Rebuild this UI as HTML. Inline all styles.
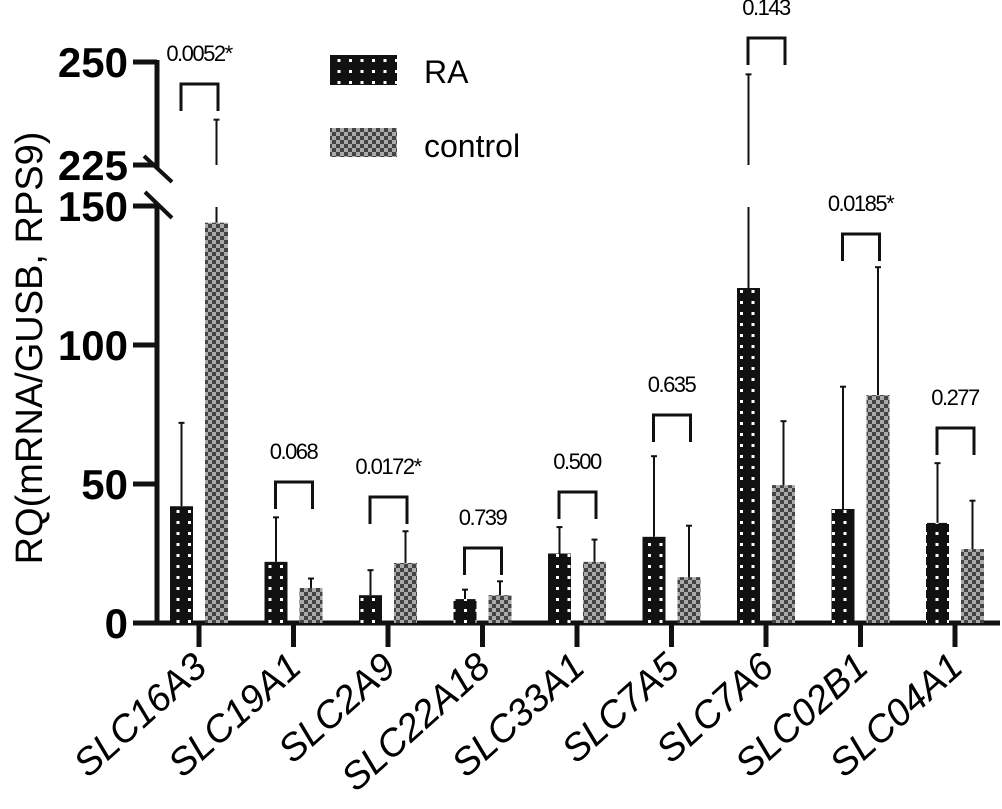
<!DOCTYPE html>
<html><head><meta charset="utf-8"><style>
html,body{margin:0;padding:0;background:#fff;}
svg{display:block;font-family:"Liberation Sans",Arial,sans-serif;}
</style></head><body>
<svg id="chart" width="1002" height="809" viewBox="0 0 1002 809">
<defs>
<pattern id="dots" patternUnits="userSpaceOnUse" width="11.5" height="11" x="2" y="0">
<rect width="11.5" height="11" fill="#111"/><rect x="2" y="4" width="3" height="3" fill="#fff"/>
</pattern>
<pattern id="check" patternUnits="userSpaceOnUse" width="8" height="8">
<rect width="8" height="8" fill="#aaa"/><rect width="4" height="4" fill="#444"/><rect x="4" y="4" width="4" height="4" fill="#444"/>
</pattern>
</defs>
<g id="axes"></g>
<g id="marks"></g>
<g>
<rect x="330" y="55" width="67" height="30" fill="url(#dots)"/>
<text x="424" y="83" font-size="32">RA</text>
<rect x="330" y="128" width="67" height="29" fill="url(#check)"/>
<text x="424" y="157" font-size="32">control</text>
</g>
<text transform="translate(42,348) rotate(-90)" text-anchor="middle" font-size="38">RQ(mRNA/GUSB, RPS9)</text>
</svg>
<script>
const categories=["SLC16A3","SLC19A1","SLC2A9","SLC22A18","SLC33A1","SLC7A5","SLC7A6","SLC02B1","SLC04A1"];
const raValues=[42,22,10,8.6,25,31,120.5,41,36];
const raErrors=[72,38,19,12,34.5,60,247,85,57.5];
const ctrlValues=[144,12.6,21.6,10,22,16.5,49.6,82,26.6];
const ctrlErrors=[236,16,33,15,30,35,72.6,128,44];
const pLabels=["0.0052*","0.068","0.0172*","0.739","0.500","0.635","0.143","0.0185*","0.277"];
const bracketTops=[84,482,497,548,492,415,38,234,428];
const yTicksLow=[0,50,100,150];
const yTicksHigh=[225,250];

const NS="http://www.w3.org/2000/svg";
const base=623, pxLow=2.78, brkTop=165, pxHigh=4.12;
function y(v){return v<=150?base-v*pxLow:brkTop-(v-225)*pxHigh;}
function xc(i){return 199+i*94.5;}
function mk(p,tag,a){const e=document.createElementNS(NS,tag);for(const k in a)e.setAttribute(k,a[k]);p.appendChild(e);return e;}
const axes=document.getElementById('axes'),marks=document.getElementById('marks');
let e;
e=mk(axes,'line',{x1:157,y1:base+2,x2:157,y2:y(150)-2,stroke:'#111','stroke-width':5});

e=mk(axes,'line',{x1:157,y1:y(225)+3,x2:157,y2:y(250)-2,stroke:'#111','stroke-width':5});

e=mk(axes,'line',{x1:133,y1:base,x2:1000,y2:base,stroke:'#111','stroke-width':5});

e=mk(axes,'line',{x1:144,y1:156,x2:172,y2:182,stroke:'#111','stroke-width':4});

e=mk(axes,'line',{x1:145,y1:192,x2:172,y2:218,stroke:'#111','stroke-width':4});

yTicksLow.concat(yTicksHigh).forEach(v=>{
  const ty=y(v);
  if(v>0){const t=mk(axes,'line',{x1:133,y1:ty,x2:157,y2:ty,stroke:'#111','stroke-width':5});
  }
  const l=mk(axes,'text',{x:128,y:ty+15,'text-anchor':'end','font-size':42,'font-weight':'bold'});
  l.textContent=v;
  
});
categories.forEach((c,i)=>{
  const cx=xc(i);
  const t=mk(axes,'line',{x1:cx,y1:base,x2:cx,y2:647,stroke:'#111','stroke-width':5});
  
  const l=mk(axes,'text',{transform:`translate(${cx+10},670) rotate(-42)`,'text-anchor':'end','font-size':38,'font-style':'italic'});
  l.textContent=c;
  
});
function errLine(xx,v,err){
  const top=y(v);
  if(err>150){
    mk(marks,'line',{x1:xx,y1:top,x2:xx,y2:207,stroke:'#111','stroke-width':2});
    mk(marks,'line',{x1:xx,y1:brkTop,x2:xx,y2:y(err),stroke:'#111','stroke-width':2});
  } else mk(marks,'line',{x1:xx,y1:top,x2:xx,y2:y(err),stroke:'#111','stroke-width':2});
  mk(marks,'line',{x1:xx-3,y1:y(err),x2:xx+3,y2:y(err),stroke:'#111','stroke-width':2});
}
categories.forEach((c,i)=>{
  const cx=xc(i);
  errLine(cx-17.5,raValues[i],raErrors[i]);
  errLine(cx+17.5,ctrlValues[i],ctrlErrors[i]);
  const b1=mk(marks,'rect',{x:cx-29,y:y(raValues[i]),width:23,height:base-y(raValues[i]),fill:'url(#dots)'});
  
  
  const b2=mk(marks,'rect',{x:cx+6,y:y(ctrlValues[i]),width:23,height:base-y(ctrlValues[i]),fill:'url(#check)'});
  
  
  const bt=bracketTops[i];
  const br=mk(marks,'path',{d:`M${cx-18},${bt+27}V${bt}H${cx+19}V${bt+27}`,fill:'none',stroke:'#111','stroke-width':3});
  
  
  const pl=mk(marks,'text',{x:cx,y:bt-23,'text-anchor':'middle','font-size':22,'letter-spacing':'-1.5'});
  pl.textContent=pLabels[i];
  
  
});
</script>
</body></html>
